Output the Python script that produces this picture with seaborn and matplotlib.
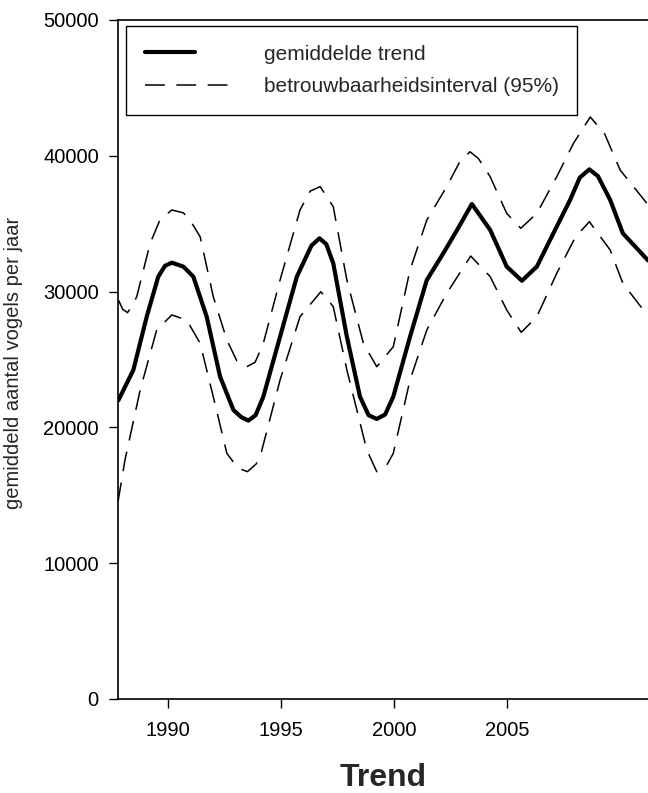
import matplotlib
matplotlib.use("Agg")
import matplotlib.pyplot as plt
import seaborn as sns
import pandas as pd
from matplotlib.legend_handler import HandlerLine2D
from matplotlib.lines import Line2D

# ---- data ----
years_mean = [1987.82, 1988.48, 1989.07, 1989.58, 1989.88, 1990.18, 1990.69, 1991.13,
              1991.72, 1992.31, 1992.9, 1993.25, 1993.56, 1993.88, 1994.22, 1994.96,
              1995.70, 1996.35, 1996.70, 1997.0, 1997.31, 1997.91, 1998.49, 1998.87,
              1999.23, 1999.6, 1999.96, 2000.70, 2001.44, 2002.17, 2002.8, 2003.43,
              2004.24, 2004.97, 2005.64, 2006.30, 2007.03, 2007.77, 2008.2, 2008.62,
              2009.0, 2009.54, 2010.10, 2011.21]
mean_values = [22000, 24230, 28150, 31100, 31900, 32130, 31840, 31100,
               28150, 23740, 21280, 20750, 20500, 20900, 22260, 26680,
               31100, 33400, 33920, 33500, 32080, 26680, 22260, 20900,
               20620, 20950, 22260, 26680, 30850, 32820, 34600, 36450,
               34540, 31840, 30800, 31840, 34290, 36750, 38400, 39000,
               38500, 36750, 34290, 32300]

years_upper = [1987.82, 1988.01, 1988.22, 1988.41, 1988.63, 1989.22, 1989.66, 1990.18,
               1990.69, 1990.98, 1991.43, 1992.01, 1992.61, 1993.05, 1993.49, 1993.86,
               1994.22, 1994.96, 1995.84, 1996.29, 1996.73, 1997.31, 1997.91, 1998.64,
               1999.23, 1999.96, 2000.70, 2001.44, 2002.32, 2002.91, 2003.35, 2003.72,
               2004.24, 2004.97, 2005.59, 2006.30, 2007.18, 2007.92, 2008.66, 2009.3,
               2009.98, 2011.21]
upper_values = [29380, 28700, 28450, 28900, 29630, 33550, 35300, 36010,
                35800, 35270, 34040, 29630, 26440, 24900, 24470, 24800,
                26190, 30850, 36010, 37400, 37730, 36250, 30850, 26190,
                24470, 25940, 31590, 35270, 37730, 39600, 40300, 39800,
                38460, 35760, 34660, 35760, 38460, 40920, 42860, 41600,
                38950, 36400]

years_lower = [1987.80, 1988.11, 1988.78, 1989.51, 1990.18, 1990.84, 1991.43, 1992.01,
               1992.61, 1993.1, 1993.52, 1993.9, 1994.08, 1994.96, 1995.84, 1996.76,
               1997.31, 1997.91, 1998.79, 1999.23, 1999.7, 1999.96, 2000.70, 2001.44,
               2002.32, 2003.38, 2004.24, 2004.97, 2005.61, 2006.30, 2007.18, 2008.0,
               2008.62, 2009.54, 2010.10, 2011.21]
lower_values = [14500, 17600, 22750, 27170, 28280, 27900, 26190, 22260,
                18090, 17000, 16740, 17300, 17840, 23490, 28150, 29990,
                28890, 24230, 18340, 16740, 17300, 18090, 23490, 27170,
                29870, 32620, 31100, 28650, 27000, 28150, 31350, 34000,
                35150, 33060, 30610, 28200]

x_ticks = [1990, 1995, 2000, 2005]
y_ticks = [0, 10000, 20000, 30000, 40000, 50000]
legend_labels = ["gemiddelde trend", "betrouwbaarheidsinterval (95%)"]
x_title = "Trend"
y_title = "gemiddeld aantal vogels per jaar"

# ---- style ----
sns.set_style("ticks")
plt.rcParams["font.family"] = ["Liberation Sans", "DejaVu Sans"]

W, H = 648, 793
fig = plt.figure(figsize=(W / 100, H / 100), dpi=100)
left_px, right_px, top_px, bottom_px = 117.5, 648, 20, 699
ax = fig.add_axes([left_px / W, 1 - bottom_px / H,
                   (right_px - left_px) / W, (bottom_px - top_px) / H])

df_mean = pd.DataFrame({"jaar": years_mean, "aantal": mean_values})
df_up = pd.DataFrame({"jaar": years_upper, "aantal": upper_values})
df_lo = pd.DataFrame({"jaar": years_lower, "aantal": lower_values})

dash = (0, (13, 7.5))
sns.lineplot(data=df_up, x="jaar", y="aantal", ax=ax, color="black",
             linewidth=1.1, linestyle=dash, sort=False)
sns.lineplot(data=df_lo, x="jaar", y="aantal", ax=ax, color="black",
             linewidth=1.1, linestyle=dash, sort=False)
sns.lineplot(data=df_mean, x="jaar", y="aantal", ax=ax, color="black",
             linewidth=3.0, sort=False, solid_capstyle="round",
             solid_joinstyle="round")

ax.set_xlim(1987.78, 2011.21)
ax.set_ylim(0, 50000)
ax.set_xticks(x_ticks)
ax.set_xticklabels([str(v) for v in x_ticks])
ax.set_yticks(y_ticks)
ax.set_yticklabels([str(v) for v in y_ticks])
ax.set_xlabel("")
ax.set_ylabel("")

for s in ["left", "bottom", "top"]:
    ax.spines[s].set_visible(True)
    ax.spines[s].set_linewidth(1.2)
    ax.spines[s].set_color("black")
ax.spines["right"].set_visible(False)

ax.tick_params(axis="both", direction="out", length=6.5, width=1.0, color="black",
               labelcolor="black", labelsize=14.5)
ax.tick_params(axis="x", pad=9)
ax.tick_params(axis="y", pad=7)

# axis titles
fig.text((left_px + right_px) / 2 / W, 1 - 786.5 / H, x_title, ha="center",
         va="baseline", fontsize=23, fontweight="bold")
fig.text(14 / W, 1 - 363 / H, y_title, ha="center", va="center",
         rotation=90, fontsize=14.5)

# legend
class ShortLine(HandlerLine2D):
    def __init__(self, frac, **kw):
        super().__init__(**kw)
        self.frac = frac

    def create_artists(self, legend, orig_handle, xdescent, ydescent, width,
                       height, fontsize, trans):
        return super().create_artists(legend, orig_handle, xdescent, ydescent,
                                      width * self.frac, height, fontsize, trans)

h_mean = Line2D([], [], color="black", linewidth=3.0, solid_capstyle="round")
h_ci = Line2D([], [], color="black", linewidth=1.1, linestyle=dash)
leg = ax.legend([h_mean, h_ci], legend_labels, loc="upper left",
                bbox_to_anchor=(126 / W, 1 - 26 / H), bbox_transform=fig.transFigure,
                borderaxespad=0, fontsize=15, handlelength=4.13, handletextpad=1.58,
                borderpad=0.9, labelspacing=0.66, frameon=True, fancybox=False,
                shadow=False, handler_map={h_mean: ShortLine(0.58)})
frame = leg.get_frame()
frame.set_edgecolor("black")
frame.set_linewidth(1.0)
frame.set_facecolor("white")
frame.set_alpha(1)

fig.savefig("out.png", dpi=100)
